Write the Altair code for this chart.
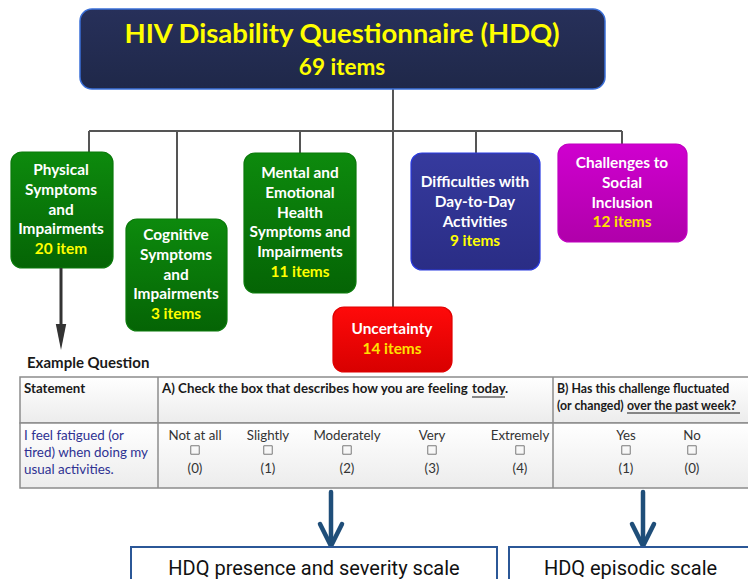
import altair as alt
import pandas as pd

# ---------------- data (text content) ----------------
title_lines = ["HIV Disability Questionnaire (HDQ)", "69 items"]

domain_lines = [
    ["Physical", "Symptoms", "and", "Impairments"],
    ["Cognitive", "Symptoms", "and", "Impairments"],
    ["Mental and", "Emotional", "Health", "Symptoms and", "Impairments"],
    ["Uncertainty"],
    ["Difficulties with", "Day-to-Day", "Activities"],
    ["Challenges to", "Social", "Inclusion"],
]
domain_counts = ["20 item", "3 items", "11 items", "14 items", "9 items", "12 items"]

example_label = "Example Question"
header_statement = "Statement"
header_a = ["A) Check the box that describes how you are feeling", "today", "."]
header_b1 = "B) Has this challenge fluctuated"
header_b2 = ["(or changed)", "over the past week?"]
statement_lines = ["I feel fatigued (or", "tired) when doing my", "usual activities."]
response_labels = ["Not at all", "Slightly", "Moderately", "Very", "Extremely", "Yes", "No"]
response_scores = ["(0)", "(1)", "(2)", "(3)", "(4)", "(1)", "(0)"]
scale_names = ["HDQ presence and severity scale", "HDQ episodic scale"]

# ---------------- layout (pixel positions of the page) ----------------
W, H = 740, 571
X0, Y0 = 8, 8
xs = alt.Scale(domain=[X0, X0 + W], nice=False, zero=False)
ys = alt.Scale(domain=[Y0 + H, Y0], nice=False, zero=False)

top_box = [80, 605, 9, 89]
title_x = 342
title_y = [35, 68]
title_size = [27.5, 22.5]

domain_box = [(11, 113, 152, 268), (126, 227, 219, 331), (244, 356, 153, 293),
              (333, 452, 307, 372), (411, 540, 153, 270), (558, 687, 144, 242)]
domain_cx = [61, 176, 300, 392, 475, 622]
domain_first_y = [170, 235, 173, 329, 182, 163]
line_gap = 19.8
domain_style = ["green", "green", "green", "red", "navy", "magenta"]
count_color = {"green": "#ffff00", "red": "#ffe100", "navy": "#ffff00", "magenta": "#ffe100"}

bus_y = 131
drop_x = [89, 177, 300, 476, 622]

table_x = [20, 770]
table_y = [377, 423, 488]
table_cols = [158, 553]
option_x = [195, 268, 347, 432, 520, 626, 692]
option_y = [436, 450, 469]

arrow_x = [331, 643]
arrow_y = [492, 546]
scale_box = [(131, 497), (509, 752)]
scale_box_y = [547, 620]
scale_text_y = 575


def X(f):
    return alt.X(f, type="quantitative", scale=xs, axis=None)


def Y(f):
    return alt.Y(f, type="quantitative", scale=ys, axis=None)


def grad(c0, c1):
    return alt.Gradient(gradient="linear",
                        stops=[alt.GradientStop(color=c0, offset=0),
                               alt.GradientStop(color=c1, offset=1)],
                        x1=0, x2=0, y1=0, y2=1)


def rects(df, **mk):
    return alt.Chart(df).mark_rect(clip=True, **mk).encode(
        x=X("x0"), x2=alt.X2("x1"), y=Y("y0"), y2=alt.Y2("y1"))


def rules(df, **mk):
    return alt.Chart(df).mark_rule(clip=True, **mk).encode(
        x=X("x0"), x2=alt.X2("x1"), y=Y("y0"), y2=alt.Y2("y1"))


def texts(df, **mk):
    enc = dict(x=X("x"), y=Y("y"), text=alt.Text("t:N"),
               color=alt.Color("c:N", scale=None))
    if "s" in df.columns:
        enc["size"] = alt.Size("s:Q", scale=None)
    return alt.Chart(df).mark_text(clip=False, **mk).encode(**enc)


layers = []

# connectors
conn = [dict(x0=drop_x[0], x1=drop_x[-1], y0=bus_y, y1=bus_y)]
conn.append(dict(x0=393, x1=393, y0=top_box[3], y1=domain_box[3][2]))
for dx, idx in zip(drop_x, [0, 1, 2, 4, 5]):
    conn.append(dict(x0=dx, x1=dx, y0=bus_y, y1=domain_box[idx][2]))
layers.append(rules(pd.DataFrame(conn), color="#555555", strokeWidth=2))

# top box
layers.append(rects(pd.DataFrame([dict(x0=top_box[0], x1=top_box[1], y0=top_box[2], y1=top_box[3])]),
                    fill=grad("#27305a", "#1f2849"), stroke="#3a6fd8", strokeWidth=1.5,
                    cornerRadius=12))
layers.append(texts(pd.DataFrame(dict(x=[title_x] * 2, y=title_y, t=title_lines,
                                      c=["#ffff00"] * 2, s=title_size)),
                    font="Lato", fontWeight="bold", align="center", baseline="middle"))

# domain boxes
styles = {
    "green": dict(fill=grad("#0d8a0d", "#056405"), stroke="#0b7a0b"),
    "red": dict(fill=grad("#ff0a0a", "#d80000"), stroke="#e00000"),
    "navy": dict(fill=grad("#363a9e", "#2a2d85"), stroke="#2a3ae0"),
    "magenta": dict(fill=grad("#cf00cf", "#b000aa"), stroke="#c000c0"),
}
for st, sty in styles.items():
    rows = [dict(x0=b[0], x1=b[1], y0=b[2], y1=b[3])
            for b, s in zip(domain_box, domain_style) if s == st]
    layers.append(rects(pd.DataFrame(rows), fill=sty["fill"], stroke=sty["stroke"],
                        strokeWidth=1.2, cornerRadius=11))

trows = []
for lines, cnt, cx, fy, st in zip(domain_lines, domain_counts, domain_cx, domain_first_y, domain_style):
    for i, ln in enumerate(lines):
        trows.append(dict(x=cx, y=fy + i * line_gap, t=ln, c="#ffffff"))
    trows.append(dict(x=cx, y=fy + len(lines) * line_gap, t=cnt, c=count_color[st]))
layers.append(texts(pd.DataFrame(trows), font="Lato", fontWeight="bold", fontSize=15.4,
                    align="center", baseline="middle"))

# arrow from physical box
layers.append(rules(pd.DataFrame([dict(x0=61, x1=61, y0=268, y1=330)]), color="#333333", strokeWidth=3))
layers.append(alt.Chart(pd.DataFrame(dict(x=[61], y=[337]))).mark_point(
    shape="M -0.4 -1 L 0.4 -1 L 0 1 Z", filled=True, color="#333333", size=676, opacity=1
).encode(x=X("x"), y=Y("y")))

layers.append(texts(pd.DataFrame(dict(x=[27], y=[363], t=[example_label], c=["#1a1a1a"])),
                    font="Lato", fontWeight="bold", fontSize=15, align="left", baseline="middle"))

# table
layers.append(rects(pd.DataFrame([dict(x0=table_x[0], x1=table_x[1], y0=table_y[0], y1=table_y[1]),
                                  dict(x0=table_x[0], x1=table_x[1], y0=table_y[1], y1=table_y[2])]),
                    fill=grad("#ffffff", "#ececec"), stroke="#8c8c8c", strokeWidth=1.5))
layers.append(rules(pd.DataFrame([dict(x0=c, x1=c, y0=table_y[0], y1=table_y[2]) for c in table_cols]),
                    color="#8c8c8c", strokeWidth=1.5))

hdr = [dict(x=24, y=389, t=header_statement, c="#1a1a1a"),
       dict(x=162, y=389, t=header_a[0], c="#1a1a1a"),
       dict(x=472, y=389, t=header_a[1], c="#1a1a1a"),
       dict(x=505, y=389, t=header_a[2], c="#1a1a1a")]
layers.append(texts(pd.DataFrame(hdr), font="Lato", fontWeight="bold", fontSize=13.3,
                    align="left", baseline="middle"))
hdr_b = [dict(x=557, y=389, t=header_b1, c="#1a1a1a"),
         dict(x=557, y=406, t=header_b2[0], c="#1a1a1a"),
         dict(x=627, y=406, t=header_b2[1], c="#1a1a1a")]
layers.append(texts(pd.DataFrame(hdr_b), font="Lato", fontWeight="bold", fontSize=12.3,
                    align="left", baseline="middle"))
layers.append(rules(pd.DataFrame([dict(x0=472, x1=505, y0=397, y1=397),
                                  dict(x0=627, x1=740, y0=413, y1=413)]),
                    color="#1a1a1a", strokeWidth=1))

layers.append(texts(pd.DataFrame(dict(x=[24] * 3, y=[436, 453, 470], t=statement_lines,
                                      c=["#2e3192"] * 3)),
                    font="Lato", fontSize=13.4, align="left", baseline="middle"))
opt = [dict(x=x, y=option_y[0], t=t, c="#333333") for x, t in zip(option_x, response_labels)]
opt += [dict(x=x, y=option_y[2], t=t, c="#333333") for x, t in zip(option_x, response_scores)]
layers.append(texts(pd.DataFrame(opt), font="Lato", fontSize=13.3, align="center", baseline="middle"))
layers.append(alt.Chart(pd.DataFrame(dict(x=option_x, y=[option_y[1]] * len(option_x)))).mark_point(
    shape="square", filled=False, color="#7a7a7a", strokeWidth=1, size=72, opacity=1
).encode(x=X("x"), y=Y("y")))

# bottom arrows
arr = []
for ax in arrow_x:
    arr.append(dict(x0=ax, x1=ax, y0=arrow_y[0], y1=arrow_y[1] - 2))
    arr.append(dict(x0=ax - 11, x1=ax, y0=arrow_y[1] - 22, y1=arrow_y[1]))
    arr.append(dict(x0=ax + 11, x1=ax, y0=arrow_y[1] - 22, y1=arrow_y[1]))
layers.append(rules(pd.DataFrame(arr), color="#1f4e79", strokeWidth=4.5, strokeCap="round"))

layers.append(rects(pd.DataFrame([dict(x0=b[0], x1=b[1], y0=scale_box_y[0], y1=scale_box_y[1]) for b in scale_box]),
                    fill="#ffffff", stroke="#2b5797", strokeWidth=2))
layers.append(texts(pd.DataFrame(dict(x=[(b[0] + b[1]) / 2 for b in scale_box], y=[scale_text_y] * 2,
                                      t=scale_names, c=["#111111"] * 2)),
                    font="Roboto", fontSize=20, align="center", baseline="alphabetic"))

chart = alt.layer(*layers).properties(
    width=W, height=H, padding=0, autosize="none", background="#ffffff"
).configure_view(stroke=None)

chart.save("out.html", embed_options={"renderer": "svg", "actions": False})
